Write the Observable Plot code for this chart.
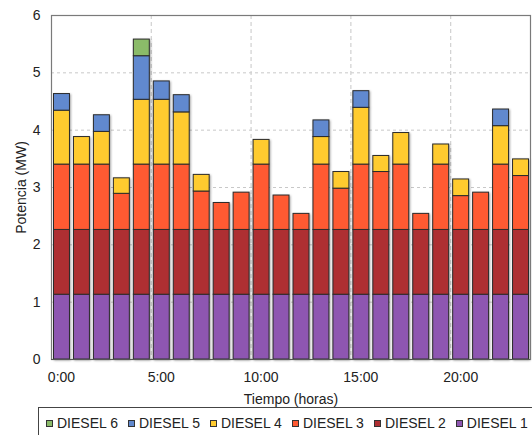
<!DOCTYPE html>
<html>
<head>
<meta charset="utf-8">
<script src="https://cdn.jsdelivr.net/npm/d3@7"></script>
<script src="https://cdn.jsdelivr.net/npm/@observablehq/plot@0.6"></script>
<style>
  html, body { margin: 0; padding: 0; background: #fff; }
  body { width: 532px; height: 435px; position: relative; overflow: hidden; font-family: "Liberation Sans", Arial, sans-serif; }
  #chart { position: absolute; left: 0; top: 0; }
  #legend {
    position: absolute; left: 38px; top: 407px; width: 520px; height: 40px;
    border: 1px solid #444; box-sizing: border-box;
    display: flex; align-items: flex-start; padding: 7px 0 0 7px;
    font-size: 14px; color: #222; white-space: nowrap;
  }
  #legend .item { display: flex; align-items: center; margin-right: 10px; }
  #legend .sw { width: 7px; height: 7px; border: 1px solid #333; margin-right: 4px; box-sizing: border-box; }
</style>
</head>
<body>
<div id="chart"></div>
<div id="legend"></div>
<script>
// Hourly dispatch of six diesel generating units (MW)
const hours = [0, 1, 2, 3, 4, 5, 6, 7, 8, 9, 10, 11, 12, 13, 14, 15, 16, 17, 18, 19, 20, 21, 22, 23];
const units = ["DIESEL 1", "DIESEL 2", "DIESEL 3", "DIESEL 4", "DIESEL 5", "DIESEL 6"];
const colors = ["#8e56b1", "#ae2f32", "#ff5a32", "#ffcb2f", "#6189cf", "#8bbb69"];

const diesel1 = [1.13, 1.13, 1.13, 1.13, 1.13, 1.13, 1.13, 1.13, 1.13, 1.13, 1.13, 1.13, 1.13, 1.13, 1.13, 1.13, 1.13, 1.13, 1.13, 1.13, 1.13, 1.13, 1.13, 1.13];
const diesel2 = [1.13, 1.13, 1.13, 1.13, 1.13, 1.13, 1.13, 1.13, 1.13, 1.13, 1.13, 1.13, 1.13, 1.13, 1.13, 1.13, 1.13, 1.13, 1.13, 1.13, 1.13, 1.13, 1.13, 1.13];
const diesel3 = [1.14, 1.14, 1.14, 0.63, 1.14, 1.14, 1.14, 0.67, 0.47, 0.65, 1.14, 0.60, 0.28, 1.14, 0.72, 1.14, 1.01, 1.14, 0.28, 1.14, 0.59, 0.65, 1.14, 0.94];
const diesel4 = [0.94, 0.48, 0.57, 0.27, 1.13, 1.13, 0.91, 0.29, 0, 0, 0.43, 0, 0, 0.48, 0.29, 0.99, 0.28, 0.55, 0, 0.35, 0.29, 0, 0.67, 0.29];
const diesel5 = [0.29, 0, 0.29, 0, 0.76, 0.32, 0.30, 0, 0, 0, 0, 0, 0, 0.29, 0, 0.29, 0, 0, 0, 0, 0, 0, 0.29, 0];
const diesel6 = [0, 0, 0, 0, 0.29, 0, 0, 0, 0, 0, 0, 0, 0, 0, 0, 0, 0, 0, 0, 0, 0, 0, 0, 0];

const tickHours = [0, 5, 10, 15, 20];
const tickLabels = ["0:00", "5:00", "10:00", "15:00", "20:00"];
const yTicks = [0, 1, 2, 3, 4, 5, 6];

const series = [diesel1, diesel2, diesel3, diesel4, diesel5, diesel6];
const rows = [];
hours.forEach((h, i) => {
  series.forEach((s, k) => {
    if (s[i] > 0) rows.push({hour: h, unit: units[k], mw: s[i]});
  });
});

const chart = Plot.plot({
  width: 532,
  height: 407,
  marginLeft: 51,
  marginRight: 2,
  marginTop: 15,
  marginBottom: 48,
  style: {fontFamily: "'Liberation Sans', Arial, sans-serif", fontSize: "14px", color: "#222", background: "transparent"},
  x: {type: "linear", domain: [0, 24]},
  y: {domain: [0, 6]},
  color: {domain: units, range: colors},
  marks: [
    Plot.ruleY(yTicks.slice(1, -1), {stroke: "#c8c8c8", strokeDasharray: "3,3", strokeWidth: 1}),
    Plot.ruleX(tickHours.slice(1), {stroke: "#d0d0d0", strokeDasharray: "4,3", strokeWidth: 1.2}),
    Plot.rect(rows, Plot.stackY({
      x: "hour",
      x1: d => d.hour,
      x2: d => d.hour + 1,
      y: "mw",
      fill: "unit",
      order: units,
      insetLeft: 2.5,
      insetRight: 1.5,
      stroke: "#2a2a2a",
      strokeWidth: 1
    })),
    Plot.frame({stroke: "#7a7a7a", strokeWidth: 1.2}),
    Plot.ruleY([0], {stroke: "#555", strokeWidth: 1.2}),
    Plot.axisY({
      ticks: yTicks, tickFormat: d => String(d), tickSize: 0, tickPadding: 11,
      label: "Potencia (MW)", labelAnchor: "center", labelArrow: "none", labelOffset: 35
    }),
    Plot.axisX({
      ticks: tickHours.map(h => h + 0.5),
      tickFormat: (d) => tickLabels[tickHours.indexOf(d - 0.5)],
      tickSize: 0, tickPadding: 13,
      label: "Tiempo (horas)", labelAnchor: "center", labelArrow: "none", labelOffset: 44
    })
  ]
});

// soft drop shadow under the bars
chart.querySelectorAll("g[aria-label='rect']").forEach(g => {
  g.style.filter = "drop-shadow(1px 1px 0.8px rgba(0,0,0,0.35))";
});
document.getElementById("chart").appendChild(chart);

// legend, listed from the top of the stack down
const legend = document.getElementById("legend");
units.slice().reverse().forEach(u => {
  const item = document.createElement("div");
  item.className = "item";
  const sw = document.createElement("span");
  sw.className = "sw";
  sw.style.background = colors[units.indexOf(u)];
  const label = document.createElement("span");
  label.textContent = u;
  item.appendChild(sw);
  item.appendChild(label);
  legend.appendChild(item);
});
</script>
</body>
</html>
